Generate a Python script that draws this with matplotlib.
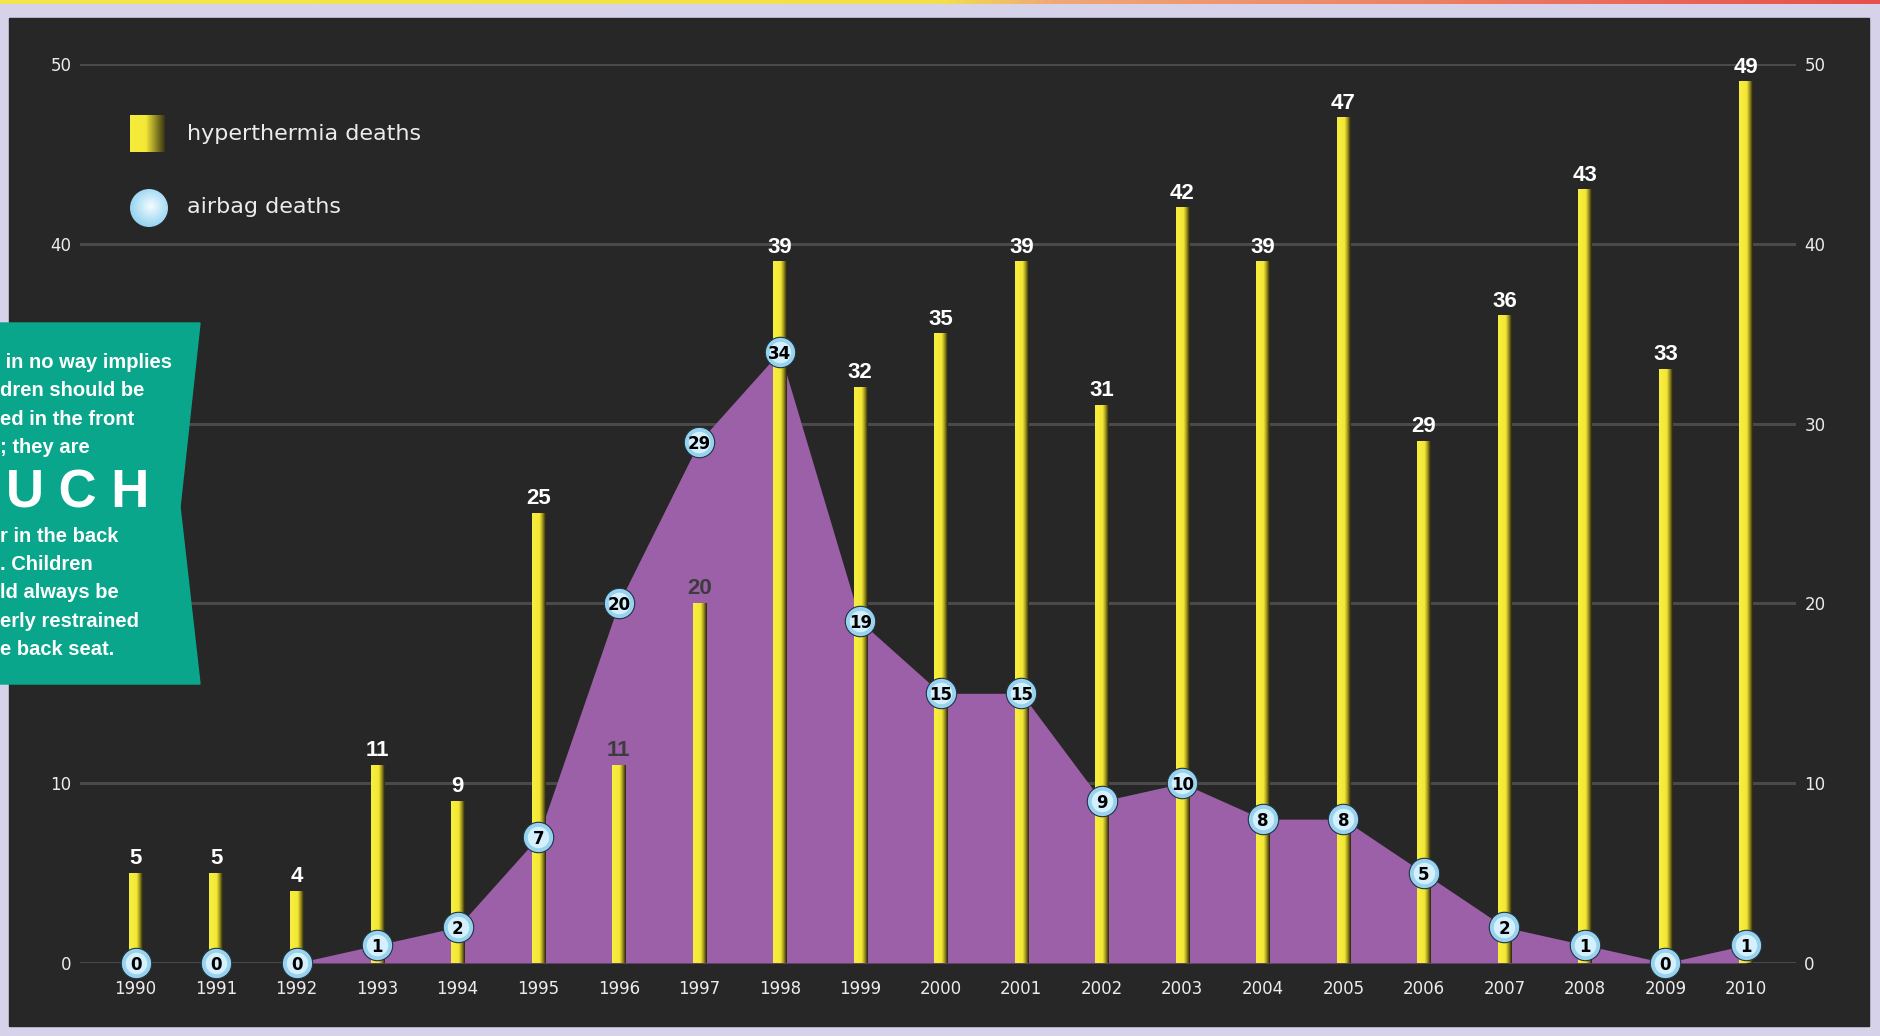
"""Hyperthermia vs airbag deaths of children, 1990-2010."""

import numpy as np
import matplotlib
matplotlib.use("Agg")
import matplotlib.pyplot as plt
from matplotlib.colors import LinearSegmentedColormap
from matplotlib.patches import Rectangle, Polygon, Circle
from matplotlib import font_manager

years = list(range(1990, 2011))
hyperthermia = [5, 5, 4, 11, 9, 25, 11, 20, 39, 32, 35, 39, 31, 42, 39, 47, 29, 36, 43, 33, 49]
airbag = [0, 0, 0, 1, 2, 7, 20, 29, 34, 19, 15, 15, 9, 10, 8, 8, 5, 2, 1, 0, 1]
y_ticks = [0, 10, 20, 30, 40, 50]
legend_labels = ["hyperthermia deaths", "airbag deaths"]
callout_top = [" in no way implies", "dren should be", "ed in the front", "; they are"]
callout_big = "U C H"
callout_bottom = ["r in the back", ". Children", "ld always be", "erly restrained",
                  "e back seat."]

W, H = 1881, 1036
BG = "#d5d2ea"
PANEL = "#272727"
PURPLE = "#9b60a7"
GRID = "#4a4a4a"
TXT = "#ececec"

available = {f.name for f in font_manager.fontManager.ttflist}
BOLD_FONT = "Liberation Sans" if "Liberation Sans" in available else "DejaVu Sans"


def px(x, y):
    """Pixel (from top-left) to figure fraction."""
    return x / W, 1 - y / H


fig = plt.figure(figsize=(W / 100, H / 100), dpi=100, facecolor=BG)

# dark panel, kept under every axes
fig.patches.append(Rectangle(px(9, 1026), (1869 - 9) / W, (1026 - 18) / H,
                             transform=fig.transFigure, color=PANEL, zorder=-5))

# top colour strip
strip = fig.add_axes([0, 1 - 4 / H, 1, 4 / H])
strip_cmap = LinearSegmentedColormap.from_list(
    "strip", [(0, "#f2e64a"), (0.5, "#f2e04a"), (0.56, "#f0a878"), (1, "#e6504c")])
strip.imshow(np.linspace(0, 1, 256)[None, :], aspect="auto", cmap=strip_cmap)
strip.axis("off")

# main axes: value 0 at y=963px, 50 at y=64px; 1990 at x=135.6px, 2010 at 1746px
left_px, right_px = 80, 1796
ax = fig.add_axes([left_px / W, (H - 963) / H, (right_px - left_px) / W, (963 - 64) / H])
ax.set_facecolor("none")
per_year = (1746 - 135.6) / 20
x_lo = 1990 - (135.6 - left_px) / per_year
x_hi = 2010 + (right_px - 1746) / per_year

ax.fill_between(years, airbag, 0, color=PURPLE, lw=0, zorder=2)

bar_cmap = LinearSegmentedColormap.from_list(
    "bar", [(0, "#f7ee3e"), (0.55, "#f4e836"), (0.75, "#a89c20"), (1, "#24220f")])
bars = ax.bar(years, hyperthermia, width=0.165, color="none", lw=0, zorder=3)
grad = np.linspace(0, 1, 64)[None, :]
for b in bars:
    ax.imshow(grad, extent=[b.get_x(), b.get_x() + b.get_width(), 0, b.get_height()],
              aspect="auto", cmap=bar_cmap, zorder=3, interpolation="bilinear")

for yr, h, a in zip(years, hyperthermia, airbag):
    col = "#3c3c3c" if h < a else "white"
    ax.annotate(str(h), (yr, h), xytext=(0, 3), textcoords="offset points",
                ha="center", va="bottom", fontsize=16, fontweight="bold",
                color=col, family=BOLD_FONT, zorder=5)

ax.scatter(years, airbag, s=480, color="#98d2ee", edgecolor="#1f3340", lw=0.8,
           zorder=6, clip_on=False)
ax.scatter(years, airbag, s=240, color="#d4f0fc", lw=0, zorder=6, clip_on=False)
for yr, a in zip(years, airbag):
    ax.text(yr, a, str(a), ha="center", va="center_baseline", fontsize=12,
            fontweight="bold", color="black", zorder=7)

ax.set_xlim(x_lo, x_hi)
ax.set_ylim(0, 50)
ax.set_xticks(years)
ax.set_xticklabels([str(y) for y in years])
ax.set_yticks(y_ticks)
ax.grid(axis="y", color=GRID, lw=2.2, zorder=1)
ax.set_axisbelow(True)
ax.tick_params(axis="x", length=0, pad=12.5, labelsize=12, labelcolor=TXT)
ax.tick_params(axis="y", length=0, pad=6, labelsize=12, labelcolor=TXT,
               labelleft=False, labelright=True)
for s in ax.spines.values():
    s.set_visible(False)

# left labels: 20 and 30 sit under the green callout box, so leave them out
left_axis = ax.secondary_yaxis("left")
left_axis.set_yticks([t for t in y_ticks if t not in (20, 30)])
left_axis.tick_params(length=0, pad=6, labelsize=12, labelcolor=TXT)
left_axis.spines["left"].set_visible(False)

# legend
sw = fig.add_axes([130 / W, 1 - 152 / H, 35 / W, 37 / H])
sw.imshow(np.linspace(0, 1, 64)[None, :], aspect="auto",
          cmap=LinearSegmentedColormap.from_list(
              "sw", [(0, "#f6ec3c"), (0.45, "#f4e836"), (1, "#3a3614")]))
sw.axis("off")
fig.text(*px(187, 134), legend_labels[0], fontsize=16, color=TXT, va="center")

cax = fig.add_axes([130 / W, 1 - 227 / H, 38 / W, 38 / H])
yy, xx = np.mgrid[-1:1:101j, -1:1:101j]
rr = np.sqrt((xx - 0.1) ** 2 + (yy + 0.1) ** 2)
circ_cmap = LinearSegmentedColormap.from_list("c", ["#f4fcff", "#bfe6f8", "#8fd0ef"])
im = cax.imshow(rr, cmap=circ_cmap, vmin=0, vmax=1.2, extent=[-1, 1, -1, 1])
clip = Circle((0, 0), 1, transform=cax.transData)
im.set_clip_path(clip)
cax.set_xlim(-1, 1)
cax.set_ylim(-1, 1)
cax.axis("off")
fig.text(*px(187, 207), legend_labels[1], fontsize=16, color=TXT, va="center")

# green callout box, cut off at the left edge
poly_px = [(0, 323), (200, 323), (180, 507), (200, 684), (0, 684)]
fig.patches.append(Polygon([px(x, y) for x, y in poly_px], closed=True,
                           transform=fig.transFigure, color="#09a68c", zorder=8))
callout_kw = dict(fontsize=14.5, fontweight="bold", color="white", ha="left",
                  va="center", family=BOLD_FONT, linespacing=1.62, zorder=9)
fig.text(*px(0, 405), "\n".join(callout_top), **callout_kw)
fig.text(*px(0, 593), "\n".join(callout_bottom), **callout_kw)
fig.text(*px(6, 493), callout_big, fontsize=38, fontweight="bold", color="white",
         ha="left", va="center", family=BOLD_FONT, zorder=9)

fig.savefig("out.png", dpi=100, facecolor=BG)
